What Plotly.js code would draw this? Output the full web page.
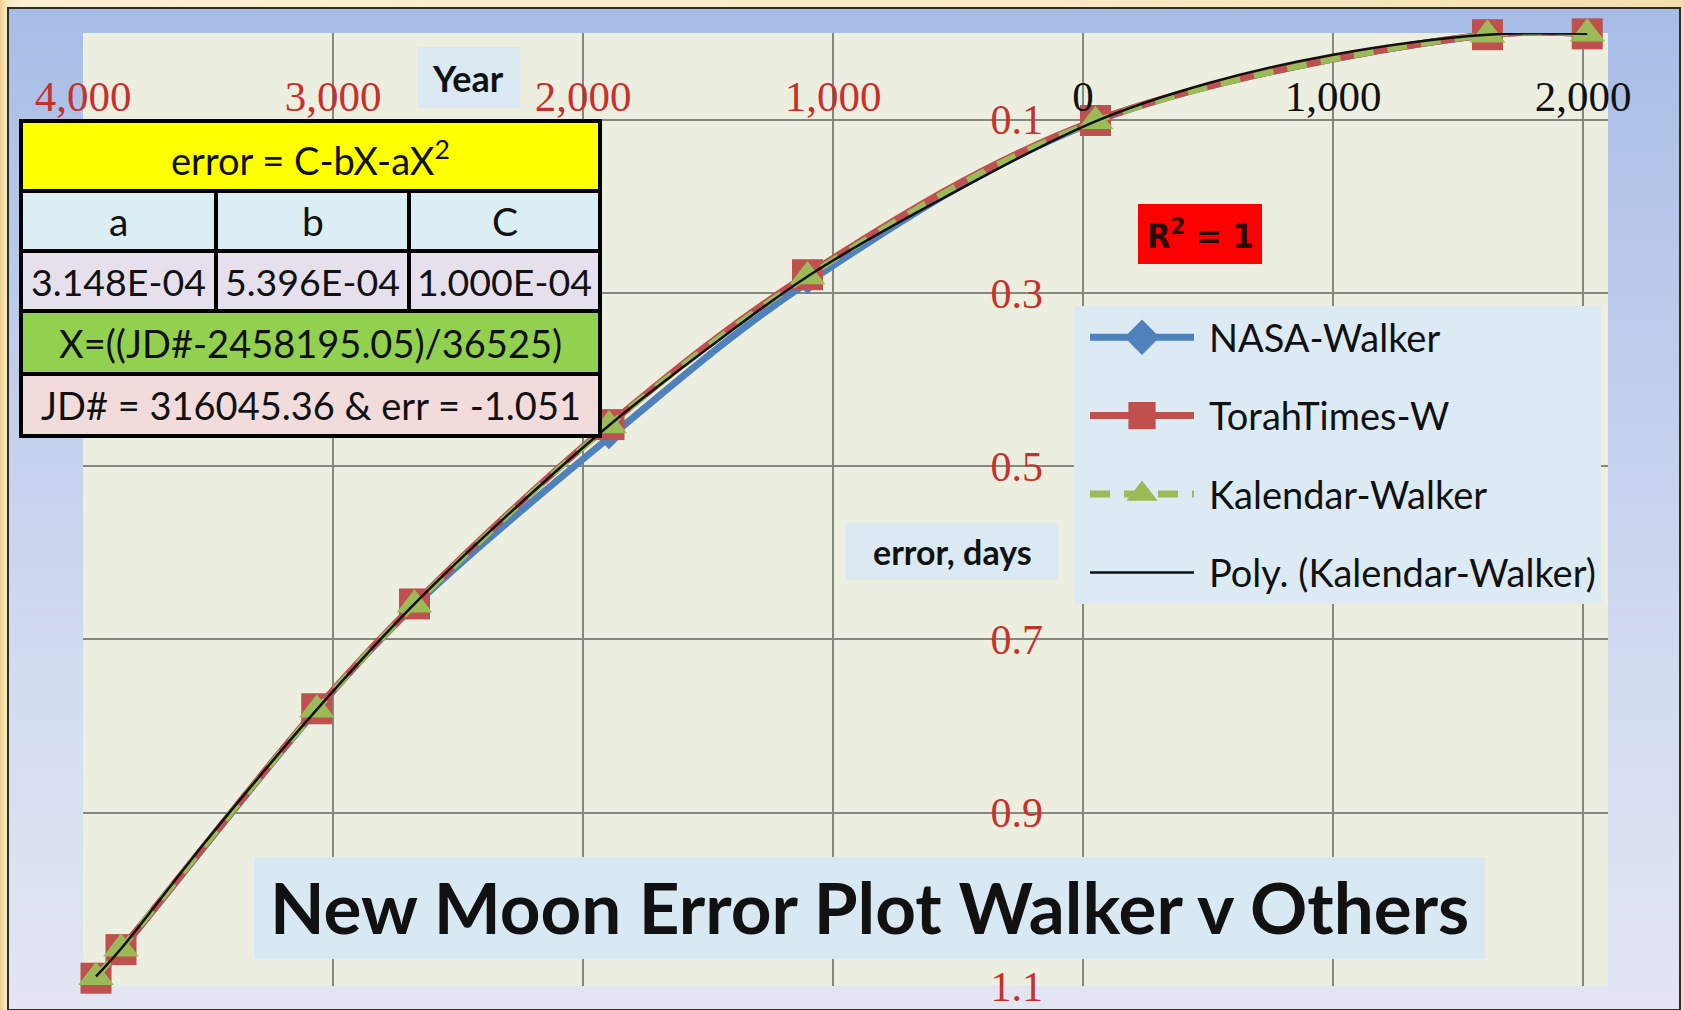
<!DOCTYPE html>
<html>
<head>
<meta charset="utf-8">
<script src="https://cdn.plot.ly/plotly-3.0.1.min.js"></script>
<style>
  html, body { margin:0; padding:0; width:1684px; height:1010px; overflow:hidden; }
  #frame { position:absolute; left:0; top:0; width:1684px; height:1010px;
    background: linear-gradient(90deg, #eccf8c 0px, #f6e6bb 5px, #fbf0d3 20px, #f8ebc6 60%, #f3dfae 100%); }
  #inner { position:absolute; left:7px; top:7px; width:1670px; height:1000px;
    border:2px solid #2e2e2e;
    background: linear-gradient(180deg, #a7bde6 0%, #bccbec 30%, #d2dbf0 65%, #e3e6f1 100%); }
  #chart { position:absolute; left:0; top:0; width:1684px; height:1010px; }
</style>
</head>
<body>
<div id="frame"><div id="inner"></div><div id="chart"></div></div>
<script>
// ---------------- data ----------------
const years       = [-3948, -3848, -3065, -2674, -1896, -1102, 50, 1618, 2017];
const nasaErr     = [-1.090, -1.058, -0.781, -0.661, -0.467, -0.288, -0.102, -0.002, -0.001];
const torahErr    = [-1.091, -1.058, -0.780, -0.659, -0.452, -0.279, -0.101, -0.002, -0.001];
const kalendarErr = [-1.090, -1.057, -0.781, -0.660, -0.453, -0.281, -0.102, -0.002, -0.001];

const polyYears = [-3948, -3848, -3500, -3065, -2674, -2300, -1896, -1500, -1102, -600, 50, 500, 1000, 1618, 2017];
const polyErr   = [-1.089, -1.057, -0.930, -0.781, -0.659, -0.556, -0.453, -0.364, -0.281, -0.197, -0.102, -0.058, -0.025, -0.002, -0.001];

const seriesNames = ['NASA-Walker', 'TorahTimes-W', 'Kalendar-Walker', 'Poly. (Kalendar-Walker)'];

const xTickVals   = [-4000, -3000, -2000, -1000, 0, 1000, 2000];
const xTickLabels = ['4,000', '3,000', '2,000', '1,000', '0', '1,000', '2,000'];
const yTickVals   = [-0.1, -0.3, -0.5, -0.7, -0.9, -1.1];
const yTickLabels = ['0.1', '0.3', '0.5', '0.7', '0.9', '1.1'];

const chartTitle   = 'New Moon Error Plot Walker v Others';
const xAxisTitle   = 'Year';
const yAxisTitle   = 'error, days';
const r2Text       = 'R<sup>2</sup> = 1';
const fitFormula   = 'error = C-bX-aX<sup>2</sup>';
const coefNames    = ['a', 'b', 'C'];
const coefValues   = ['3.148E-04', '5.396E-04', '1.000E-04'];
const xDefinition  = 'X=((JD#-2458195.05)/36525)';
const jdNote       = 'JD# = 316045.36 & err = -1.051';

// ---------------- layout geometry (pixels) ----------------
const L = 83, R = 1608, T = 33, B = 986;
const fx = x => (x - L) / (R - L);
const fy = y => (B - y) / (B - T);
const RED = '#c8302c';
const FONT = 'Lato, "Liberation Sans", sans-serif';

const traces = [
  { x: years, y: nasaErr, name: seriesNames[0], legendgroup: 'g1', mode: 'lines+markers', cliponaxis: false,
    line: { color: '#4f81bd', width: 7, shape: 'spline' },
    marker: { symbol: 'diamond', size: 18, color: '#4f81bd' } },
  { x: years, y: torahErr, name: seriesNames[1], legendgroup: 'g2', mode: 'lines+markers', cliponaxis: false,
    line: { color: '#c0504d', width: 7, shape: 'spline' },
    marker: { symbol: 'square', size: 31, color: '#c0504d' } },
  { x: years, y: kalendarErr, name: seriesNames[2], legendgroup: 'g3', mode: 'lines+markers', cliponaxis: false,
    line: { color: '#9bbb59', width: 6, shape: 'spline', dash: '20px,14px' },
    marker: { symbol: 'triangle-up', size: 31, color: '#9bbb59' } },
  { x: polyYears, y: polyErr, name: seriesNames[3], legendgroup: 'g4', mode: 'lines', cliponaxis: false,
    line: { color: '#111111', width: 2.5, shape: 'spline' } }
];

// table geometry
const tCols = [21, 216, 409, 600];
const tRows = [121, 191, 251, 311, 374, 436];
const shapes = [];
const annotations = [];
function cell(x0, x1, y0, y1, fill) {
  shapes.push({ type: 'rect', xref: 'paper', yref: 'paper', layer: 'above',
    x0: fx(x0), x1: fx(x1), y0: fy(y1), y1: fy(y0),
    fillcolor: fill, line: { color: '#000', width: 4 } });
}
function label(x, y, text, size, opts) {
  annotations.push(Object.assign({ xref: 'paper', yref: 'paper', x: fx(x), y: fy(y),
    xanchor: 'center', yanchor: 'middle', showarrow: false, text: text,
    font: { family: FONT, size: size, color: '#111' } }, opts || {}));
}
cell(tCols[0], tCols[3], tRows[0], tRows[1], '#ffff00');
for (let i = 0; i < 3; i++) cell(tCols[i], tCols[i + 1], tRows[1], tRows[2], '#dbeef3');
for (let i = 0; i < 3; i++) cell(tCols[i], tCols[i + 1], tRows[2], tRows[3], '#e5e0ec');
cell(tCols[0], tCols[3], tRows[3], tRows[4], '#92d050');
cell(tCols[0], tCols[3], tRows[4], tRows[5], '#f2dcdb');

label((tCols[0] + tCols[3]) / 2, (tRows[0] + tRows[1]) / 2 + 2, fitFormula, 38);
for (let i = 0; i < 3; i++) {
  label((tCols[i] + tCols[i + 1]) / 2, (tRows[1] + tRows[2]) / 2, coefNames[i], 39);
  label((tCols[i] + tCols[i + 1]) / 2, (tRows[2] + tRows[3]) / 2, coefValues[i], 37.5);
}
label((tCols[0] + tCols[3]) / 2, (tRows[3] + tRows[4]) / 2, xDefinition, 38);
label((tCols[0] + tCols[3]) / 2, (tRows[4] + tRows[5]) / 2, jdNote, 38);

// boxed labels
shapes.push({ type: 'rect', xref: 'paper', yref: 'paper', layer: 'above',
  x0: fx(417), x1: fx(520), y0: fy(108), y1: fy(47), fillcolor: '#dbe9f2', line: { width: 0 } });
label(468, 78, '<b>' + xAxisTitle + '</b>', 36);
shapes.push({ type: 'rect', xref: 'paper', yref: 'paper', layer: 'above',
  x0: fx(846), x1: fx(1058), y0: fy(580), y1: fy(523), fillcolor: '#dbe9f2', line: { width: 0 } });
label(952, 551, '<b>' + yAxisTitle + '</b>', 34);
shapes.push({ type: 'rect', xref: 'paper', yref: 'paper', layer: 'above',
  x0: fx(1138), x1: fx(1262), y0: fy(264), y1: fy(204), fillcolor: '#ff0000', line: { width: 0 } });
label(1200, 234, '<b>' + r2Text + '</b>', 34, { font: { family: '"Liberation Sans Narrow", "DejaVu Sans Condensed", sans-serif', size: 34, color: '#2a0c0c' } });
shapes.push({ type: 'rect', xref: 'paper', yref: 'paper', layer: 'above',
  x0: fx(254), x1: fx(1485), y0: fy(959), y1: fy(857), fillcolor: '#d9e9f3', line: { width: 0 } });
label(869, 906, '<b>' + chartTitle + '</b>', 71);

const xTickText = xTickLabels.map((t, i) => xTickVals[i] < 0 ? '<span style="color:' + RED + '">' + t + '</span>' : t);

const layout = {
  width: 1684, height: 1010,
  margin: { l: L, r: 1684 - R, t: T, b: 1010 - B, autoexpand: false },
  paper_bgcolor: 'rgba(0,0,0,0)',
  plot_bgcolor: '#eceedf',
  showlegend: true,
  legend: {
    x: fx(1074), y: fy(306), xanchor: 'left', yanchor: 'top',
    bgcolor: '#dcebf3', borderwidth: 0,
    font: { family: FONT, size: 38, color: '#111' },
    itemwidth: 125, tracegroupgap: 26, itemsizing: 'trace'
  },
  xaxis: {
    range: [-4000, 2100], tickmode: 'array', tickvals: xTickVals, ticktext: xTickText,
    anchor: 'free', position: 1.0 / 1.1, side: 'top', ticks: '',
    showgrid: true, gridcolor: '#85887c', gridwidth: 2, zeroline: false, showline: false,
    tickfont: { family: '"Liberation Serif", serif', size: 43, color: '#111' },
    ticklabelstandoff: 0
  },
  yaxis: {
    range: [-1.1, 0], tickmode: 'array', tickvals: yTickVals, ticktext: yTickLabels,
    anchor: 'free', position: 4000 / 6100, side: 'left', ticks: '',
    showgrid: true, gridcolor: '#85887c', gridwidth: 2, zeroline: false, showline: false,
    tickfont: { family: '"Liberation Serif", serif', size: 42, color: RED },
    ticklabelstandoff: 40
  },
  shapes: shapes,
  annotations: annotations
};

Plotly.newPlot('chart', traces, layout, { displayModeBar: false, staticPlot: true }).then(gd => {
  gd.querySelectorAll('.legend .traces').forEach(tr => {
    tr.querySelectorAll('.legendlines path').forEach(p => {
      p.setAttribute('d', 'M16,0h104');
      const w = parseFloat(p.style.strokeWidth || '0');
      if (w >= 4) p.style.strokeWidth = '7px';
    });
    tr.querySelectorAll('.legendpoints path.scatterpts').forEach(p => p.setAttribute('transform', 'translate(68,0) scale(1.7)'));
  });
});
</script>
</body>
</html>
